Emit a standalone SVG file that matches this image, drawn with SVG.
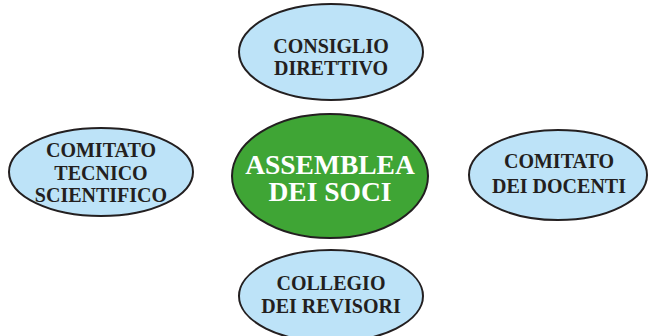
<svg xmlns="http://www.w3.org/2000/svg" width="648" height="336" viewBox="0 0 648 336">
<style>
.n{fill:#bde3f8;stroke:#231f20;stroke-width:2}
.c{fill:#3fa535;stroke:#231f20;stroke-width:2}
text{font-family:"Liberation Serif","Times New Roman",serif;font-weight:bold;text-anchor:middle}
.t{font-size:20px;fill:#231f20}
.w{font-size:27.5px;fill:#ffffff}
</style>
<rect width="648" height="336" fill="#ffffff"/>
<g id="connectors"></g>
<g id="consiglio">
<ellipse class="n" cx="331" cy="52" rx="92" ry="48"/>
<text class="t" x="331" y="53">CONSIGLIO</text>
<text class="t" x="331" y="75">DIRETTIVO</text>
</g>
<g id="comitato-tecnico">
<ellipse class="n" cx="101" cy="172" rx="92" ry="44"/>
<text class="t" x="101" y="157">COMITATO</text>
<text class="t" x="101" y="180">TECNICO</text>
<text class="t" x="101" y="202">SCIENTIFICO</text>
</g>
<g id="assemblea">
<ellipse class="c" cx="330" cy="176" rx="98" ry="62"/>
<text class="w" x="330" y="174">ASSEMBLEA</text>
<text class="w" x="330" y="201">DEI SOCI</text>
</g>
<g id="comitato-docenti">
<ellipse class="n" cx="558" cy="175" rx="89" ry="45"/>
<text class="t" x="559" y="168">COMITATO</text>
<text class="t" x="559" y="193">DEI DOCENTI</text>
</g>
<g id="collegio">
<ellipse class="n" cx="331" cy="296" rx="92" ry="46"/>
<text class="t" x="331" y="290">COLLEGIO</text>
<text class="t" x="331" y="313">DEI REVISORI</text>
</g>
</svg>
